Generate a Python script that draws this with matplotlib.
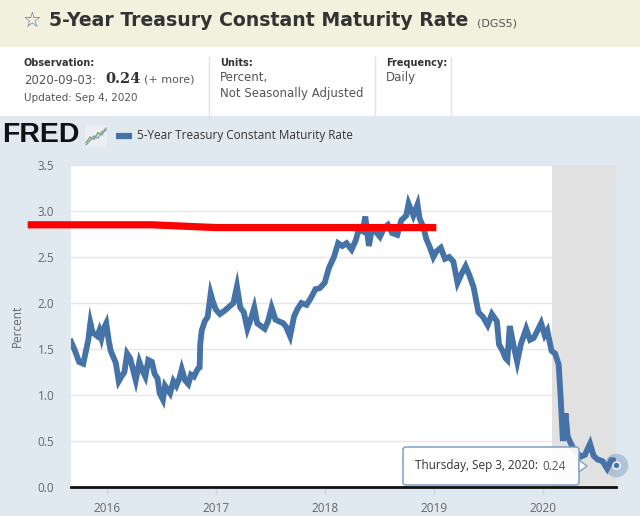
import matplotlib
matplotlib.use('Agg')
import matplotlib.pyplot as plt
import matplotlib.dates as mdates
import pandas as pd
from matplotlib.patches import Rectangle, FancyBboxPatch, Polygon

FRED_BLUE = '#4572a7'
PANEL_BG = '#e1e9f0'
HEADER_BG = '#f1f1de'
TEXT_DARK = '#333333'
TEXT_GRAY = '#666666'

# DGS5 (roughly semi-monthly)
dates = [
    '2015-09-04', '2015-09-15', '2015-10-01', '2015-10-15', '2015-11-01', '2015-11-08',
    '2015-11-15', '2015-12-01', '2015-12-08', '2015-12-15', '2015-12-22', '2015-12-31',
    '2016-01-08', '2016-01-15', '2016-02-01', '2016-02-11', '2016-02-20', '2016-03-01',
    '2016-03-10', '2016-03-20', '2016-04-01', '2016-04-08', '2016-04-20', '2016-05-01',
    '2016-05-10', '2016-05-20', '2016-06-01', '2016-06-10', '2016-06-20', '2016-06-27',
    '2016-07-08', '2016-07-15', '2016-08-01', '2016-08-12', '2016-08-22', '2016-09-01',
    '2016-09-09', '2016-09-20', '2016-10-01', '2016-10-10', '2016-10-20', '2016-11-01',
    '2016-11-08', '2016-11-10', '2016-11-15', '2016-11-25', '2016-12-05', '2016-12-15',
    '2016-12-22', '2017-01-01', '2017-01-15', '2017-02-01', '2017-02-15', '2017-03-01',
    '2017-03-13', '2017-03-24', '2017-04-05', '2017-04-17', '2017-05-01', '2017-05-10',
    '2017-05-20', '2017-06-01', '2017-06-14', '2017-06-25', '2017-07-07', '2017-07-20',
    '2017-08-01', '2017-08-15', '2017-08-25', '2017-09-07', '2017-09-20', '2017-10-01',
    '2017-10-15', '2017-11-01', '2017-11-15', '2017-12-01', '2017-12-15', '2018-01-01',
    '2018-01-15', '2018-02-01', '2018-02-15', '2018-03-01', '2018-03-15', '2018-04-01',
    '2018-04-15', '2018-04-25', '2018-05-08', '2018-05-17', '2018-05-29', '2018-06-08',
    '2018-06-20', '2018-07-05', '2018-07-20', '2018-08-01', '2018-08-15', '2018-09-01',
    '2018-09-15', '2018-10-01', '2018-10-09', '2018-10-25', '2018-11-08', '2018-11-15',
    '2018-11-28', '2018-12-07', '2018-12-20', '2018-12-31', '2019-01-10', '2019-01-25',
    '2019-02-08', '2019-02-22', '2019-03-08', '2019-03-22', '2019-04-05', '2019-04-18',
    '2019-05-01', '2019-05-15', '2019-05-31', '2019-06-15', '2019-07-01', '2019-07-15',
    '2019-08-01', '2019-08-08', '2019-08-20', '2019-08-30', '2019-09-05', '2019-09-13',
    '2019-09-25', '2019-10-08', '2019-10-20', '2019-11-07', '2019-11-20', '2019-12-02',
    '2019-12-15', '2019-12-27', '2020-01-08', '2020-01-17', '2020-01-31', '2020-02-12',
    '2020-02-24', '2020-03-02', '2020-03-09', '2020-03-18', '2020-03-25', '2020-04-08',
    '2020-04-22', '2020-05-08', '2020-05-22', '2020-06-08', '2020-06-20', '2020-07-03',
    '2020-07-20', '2020-08-04', '2020-08-18', '2020-08-25', '2020-09-03',
]
rates = [
    1.58, 1.50, 1.36, 1.34, 1.60, 1.78,
    1.68, 1.64, 1.70, 1.62, 1.72, 1.78,
    1.60, 1.48, 1.35, 1.15, 1.20, 1.25,
    1.45, 1.40, 1.25, 1.16, 1.36, 1.26,
    1.20, 1.38, 1.36, 1.23, 1.18, 1.02,
    0.95, 1.10, 1.02, 1.15, 1.10, 1.18,
    1.28, 1.16, 1.12, 1.22, 1.20, 1.28,
    1.30, 1.55, 1.70, 1.80, 1.85, 2.10,
    2.02, 1.93, 1.88, 1.92, 1.96, 2.00,
    2.18, 1.95, 1.90, 1.72, 1.85, 1.95,
    1.78, 1.75, 1.72, 1.80, 1.95, 1.82,
    1.80, 1.78, 1.74, 1.64, 1.85, 1.93,
    2.00, 1.98, 2.05, 2.15, 2.16, 2.22,
    2.38, 2.50, 2.65, 2.62, 2.65, 2.58,
    2.68, 2.80, 2.78, 2.94, 2.62, 2.80,
    2.78, 2.72, 2.82, 2.85, 2.76, 2.74,
    2.90, 2.95, 3.08, 2.95, 3.07, 2.92,
    2.82, 2.70, 2.60, 2.50, 2.56, 2.60,
    2.48, 2.50, 2.45, 2.22, 2.32, 2.40,
    2.30, 2.17, 1.90, 1.85, 1.76, 1.88,
    1.80, 1.55, 1.48, 1.40, 1.38, 1.75,
    1.55, 1.36, 1.55, 1.72, 1.60, 1.62,
    1.70, 1.78, 1.65, 1.70, 1.48, 1.45,
    1.33, 0.95, 0.50, 0.80, 0.55, 0.45,
    0.38, 0.33, 0.35, 0.47, 0.34, 0.30,
    0.28, 0.20, 0.29, 0.29, 0.24,
]

y_ticks = [0.0, 0.5, 1.0, 1.5, 2.0, 2.5, 3.0, 3.5]
year_ticks = ['2016-01-01', '2017-01-01', '2018-01-01', '2019-01-01', '2020-01-01']
x_start, x_end = '2015-09-04', '2020-09-03'
recession_start = '2020-02-01'

# hand-drawn red marker line over the chart
red_dates = ['2015-04-12', '2016-06-01', '2017-01-01', '2019-01-10']
red_rates = [2.85, 2.85, 2.82, 2.82]

# little FRED chart icon
icon_x = [0, 1, 2, 3, 4, 5]
icon_green = [0.2, 0.45, 0.35, 0.65, 0.55, 0.85]
icon_blue = [0.1, 0.3, 0.5, 0.4, 0.7, 0.75]

W, H = 640, 516


def fx(px):
    return px / W


def fy(py):
    return 1 - py / H


fig = plt.figure(figsize=(6.4, 5.16), dpi=100)
fig.patch.set_facecolor(PANEL_BG)

# header bands
fig.add_artist(Rectangle((0, fy(47)), 1, 47 / H, transform=fig.transFigure,
                         facecolor=HEADER_BG, edgecolor='none'))
fig.add_artist(Rectangle((0, fy(116)), 1, 69 / H, transform=fig.transFigure,
                         facecolor='white', edgecolor='none'))
for sx in [209, 375, 451]:
    fig.add_artist(plt.Line2D([fx(sx), fx(sx)], [fy(57), fy(116)], transform=fig.transFigure,
                              color='#dde4ec', lw=1))

fig.text(fx(23), fy(21), '\u2606', fontsize=15, color='#4a6fa5', va='center', ha='left')
fig.text(fx(49), fy(21), '5-Year Treasury Constant Maturity Rate', fontsize=13.6,
         fontweight='bold', color=TEXT_DARK, va='center', ha='left')
fig.text(fx(477), fy(23), '(DGS5)', fontsize=8, color='#555555', va='center', ha='left')

fig.text(fx(24), fy(63), 'Observation:', fontsize=7, fontweight='bold', color=TEXT_DARK, va='center')
fig.text(fx(24), fy(80), '2020-09-03:', fontsize=8.5, color='#555555', va='center')
fig.text(fx(105), fy(79), '0.24', fontsize=10.5, fontweight='bold', family='DejaVu Serif',
         color=TEXT_DARK, va='center')
fig.text(fx(144), fy(80), '(+ more)', fontsize=8, color='#555555', va='center')
fig.text(fx(24), fy(98), 'Updated: Sep 4, 2020', fontsize=7.5, color='#555555', va='center')

fig.text(fx(220), fy(63), 'Units:', fontsize=7, fontweight='bold', color=TEXT_DARK, va='center')
fig.text(fx(220), fy(78), 'Percent,', fontsize=8.5, color='#555555', va='center')
fig.text(fx(220), fy(94), 'Not Seasonally Adjusted', fontsize=8.5, color='#555555', va='center')

fig.text(fx(386), fy(63), 'Frequency:', fontsize=7, fontweight='bold', color=TEXT_DARK, va='center')
fig.text(fx(386), fy(78), 'Daily', fontsize=8.5, color='#555555', va='center')

# FRED logo + legend
fig.text(fx(2), fy(135), 'FRED', fontsize=20.5, fontweight='heavy', color='#111111',
         va='center', ha='left', family='Liberation Sans')
icon_ax = fig.add_axes([fx(85), fy(147), 22 / W, 22 / H])
icon_ax.add_patch(Rectangle((-0.3, 0), 5.6, 1, facecolor='#eceef1', edgecolor='none', zorder=0))
icon_ax.plot(icon_x, icon_green, color='#7fb36a', lw=1.2)
icon_ax.plot(icon_x, icon_blue, color='#7f9fc8', lw=1.0)
icon_ax.set_xlim(-0.3, 5.3)
icon_ax.set_ylim(0, 1)
icon_ax.axis('off')

fig.add_artist(plt.Line2D([fx(116), fx(132)], [fy(136), fy(136)], transform=fig.transFigure,
                          color=FRED_BLUE, lw=4.5, solid_capstyle='butt'))
fig.text(fx(137), fy(136), '5-Year Treasury Constant Maturity Rate', fontsize=8.5,
         color=TEXT_DARK, va='center', ha='left', family='Open Sans')

# main chart
ax = fig.add_axes([fx(71), fy(487), (616 - 71) / W, (487 - 165) / H])
ax.set_facecolor('white')

d = pd.to_datetime(dates)
ax.axvspan(pd.Timestamp(recession_start), pd.Timestamp(x_end), color='#e1e1e1', zorder=1, lw=0)
ax.plot(d, rates, color=FRED_BLUE, lw=4.2, zorder=3, solid_joinstyle='miter')

ax.set_xlim(pd.Timestamp(x_start), pd.Timestamp(x_end))
ax.set_ylim(0, 3.5)
ax.set_yticks(y_ticks)
ax.set_yticklabels([f'{v:.1f}' for v in y_ticks])
ax.set_xticks(pd.to_datetime(year_ticks))
ax.xaxis.set_major_formatter(mdates.DateFormatter('%Y'))
ax.grid(axis='y', color='#e6e6e6', lw=1, zorder=0)
ax.set_axisbelow(True)

for s in ['top', 'right', 'left']:
    ax.spines[s].set_visible(False)
ax.spines['bottom'].set_color('#111111')
ax.spines['bottom'].set_linewidth(2)
ax.spines['bottom'].set_zorder(4)

ax.tick_params(axis='y', length=0, pad=12, labelsize=8.5, labelcolor=TEXT_GRAY)
ax.tick_params(axis='x', length=5, width=1, color='#cfd6de', pad=6, labelsize=8.5,
               labelcolor=TEXT_GRAY)
for lab in ax.get_xticklabels() + ax.get_yticklabels():
    lab.set_family('Open Sans')
ax.set_ylabel('Percent', fontsize=8.5, color=TEXT_GRAY, family='Open Sans', labelpad=10)

# red overlay line
ax.plot(pd.to_datetime(red_dates), red_rates, color='#ff0000', lw=5.2, zorder=6,
        clip_on=False, solid_capstyle='butt')

# last point marker + tooltip
last_d = d[-1]
last_v = rates[-1]
ax.plot([last_d], [last_v], 'o', ms=17, color=FRED_BLUE, alpha=0.3, mec='none', zorder=7,
        clip_on=False)
ax.plot([last_d], [last_v], 'o', ms=5, color=FRED_BLUE, mec='white', mew=1, zorder=8,
        clip_on=False)

tip = FancyBboxPatch((fx(403), fy(485)), (579 - 403) / W, (485 - 447) / H,
                     boxstyle='round,pad=0,rounding_size=0.005', transform=fig.transFigure,
                     facecolor='white', edgecolor='#7f9fc8', lw=1.2, alpha=0.92, zorder=10)
fig.add_artist(tip)
arrow = Polygon([[fx(579), fy(460)], [fx(587), fy(466)], [fx(579), fy(472)]],
                closed=True, transform=fig.transFigure, facecolor='white',
                edgecolor='#7f9fc8', lw=1.0, zorder=10)
fig.add_artist(arrow)
fig.text(fx(415), fy(466), 'Thursday, Sep 3, 2020:', fontsize=8.5, color=TEXT_DARK,
         va='center', ha='left', family='Open Sans', zorder=11)
fig.text(fx(542), fy(466), '0.24', fontsize=8.5, color='#555555',
         va='center', ha='left', family='Open Sans', zorder=11)

fig.savefig('out.png', dpi=100, facecolor=fig.get_facecolor())
